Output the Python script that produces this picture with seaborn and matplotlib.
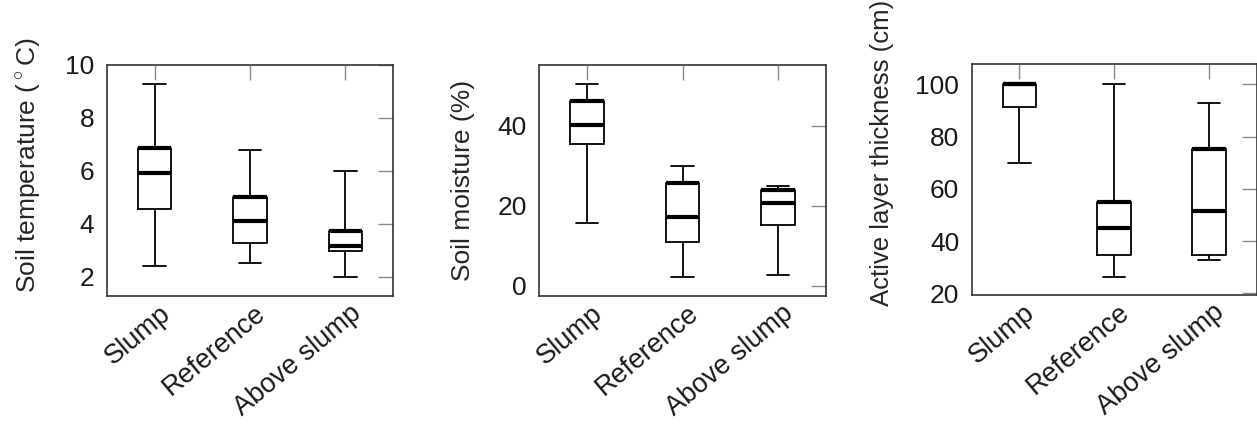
import numpy as np
import pandas as pd
import matplotlib
matplotlib.use("Agg")
import matplotlib.pyplot as plt
import matplotlib.transforms as mtransforms
import seaborn as sns

sites = ["Slump", "Reference", "Above slump"]

# five-number summaries: lower whisker, Q1, median, Q3, upper whisker
temp_low = [2.4, 2.5, 2.0]
temp_q1 = [4.55, 3.26, 2.98]
temp_med = [5.9, 4.1, 3.16]
temp_q3 = [6.88, 5.02, 3.73]
temp_high = [9.27, 6.79, 5.98]

moist_low = [15.8, 2.25, 2.8]
moist_q1 = [35.4, 11.0, 15.2]
moist_med = [40.2, 17.2, 20.8]
moist_q3 = [46.3, 25.8, 23.9]
moist_high = [50.4, 30.0, 25.0]

alt_low = [70.0, 26.2, 32.7]
alt_q1 = [91.4, 34.9, 34.9]
alt_med = [100.0, 44.9, 51.4]
alt_q3 = [100.0, 55.0, 75.1]
alt_high = [100.0, 100.0, 92.8]

temp_ticks = [2, 4, 6, 8, 10]
moist_ticks = [0, 20, 40]
alt_ticks = [20, 40, 60, 80, 100]


def to_frame(low, q1, med, q3, high):
    rows = []
    for i, site in enumerate(sites):
        for v in (low[i], q1[i], med[i], q3[i], high[i]):
            rows.append({"Site": site, "Value": v})
    return pd.DataFrame(rows)


sns.set_style("white")
plt.rcParams["font.family"] = ["Liberation Sans", "DejaVu Sans"]
plt.rcParams["mathtext.fontset"] = "custom"
plt.rcParams["mathtext.rm"] = "Liberation Sans"

fig = plt.figure(figsize=(12.57, 4.26), dpi=100)
W, H = 1257.0, 426.0

panels = [
    # axes box in px (left, top, right, bottom), data, q3, label, label size, ylim, ticks, label coords
    ((107, 65, 393, 296), to_frame(temp_low, temp_q1, temp_med, temp_q3, temp_high), temp_q3,
     r"Soil temperature ($^\circ$C)", 19, (1.27, 10.0), temp_ticks, (-0.224, 0.567)),
    ((539.3, 65, 825.7, 296), to_frame(moist_low, moist_q1, moist_med, moist_q3, moist_high), moist_q3,
     "Soil moisture (%)", 19, (-2.5, 55.2), moist_ticks, (-0.225, 0.50)),
    ((971.7, 64.3, 1256.5, 295.3), to_frame(alt_low, alt_q1, alt_med, alt_q3, alt_high), alt_q3,
     "Active layer thickness (cm)", 18.5, (19.3, 107.7), alt_ticks, (-0.273, 0.615)),
]

box_w = 0.35
for (l, t, r, b), df, q3, label, lsize, ylim, ticks, lab_xy in panels:
    ax = fig.add_axes([l / W, 1 - b / H, (r - l) / W, (b - t) / H])
    sns.boxplot(data=df, x="Site", y="Value", order=sites, whis=(0, 100),
                width=box_w, fill=False, color="black", linewidth=1.3,
                medianprops=dict(linewidth=3.0, color="black"),
                capwidths=0.24, showfliers=False, ax=ax)
    xs = np.arange(len(sites))
    ax.hlines(q3, xs - box_w / 2, xs + box_w / 2, color="black", linewidth=3.0, zorder=5)

    ax.set_xlim(-0.5, 2.5)
    ax.set_ylim(*ylim)
    ax.set_yticks(ticks)
    ax.set_xlabel("")
    ax.set_ylabel(label, fontsize=lsize)
    ax.yaxis.set_label_coords(*lab_xy)
    ax.yaxis.label.set_va("bottom")

    ax.tick_params(axis="both", direction="in", length=11, width=1.0, color="#8a8a8a",
                   top=True, right=True, labelcolor="#1a1a1a")
    ax.tick_params(axis="y", pad=9, labelsize=19)
    ax.tick_params(axis="x", pad=3, labelsize=19.5)
    for sp in ax.spines.values():
        sp.set_color("#333333")
        sp.set_linewidth(1.2)
        sp.set_visible(True)

    offset = mtransforms.ScaledTranslation(4 / 100, 0, fig.dpi_scale_trans)
    for lbl in ax.get_xticklabels():
        lbl.set_rotation(40)
        lbl.set_ha("right")
        lbl.set_va("top")
        lbl.set_rotation_mode("anchor")
        lbl.set_transform(lbl.get_transform() + offset)

fig.savefig("out.png", dpi=100)
